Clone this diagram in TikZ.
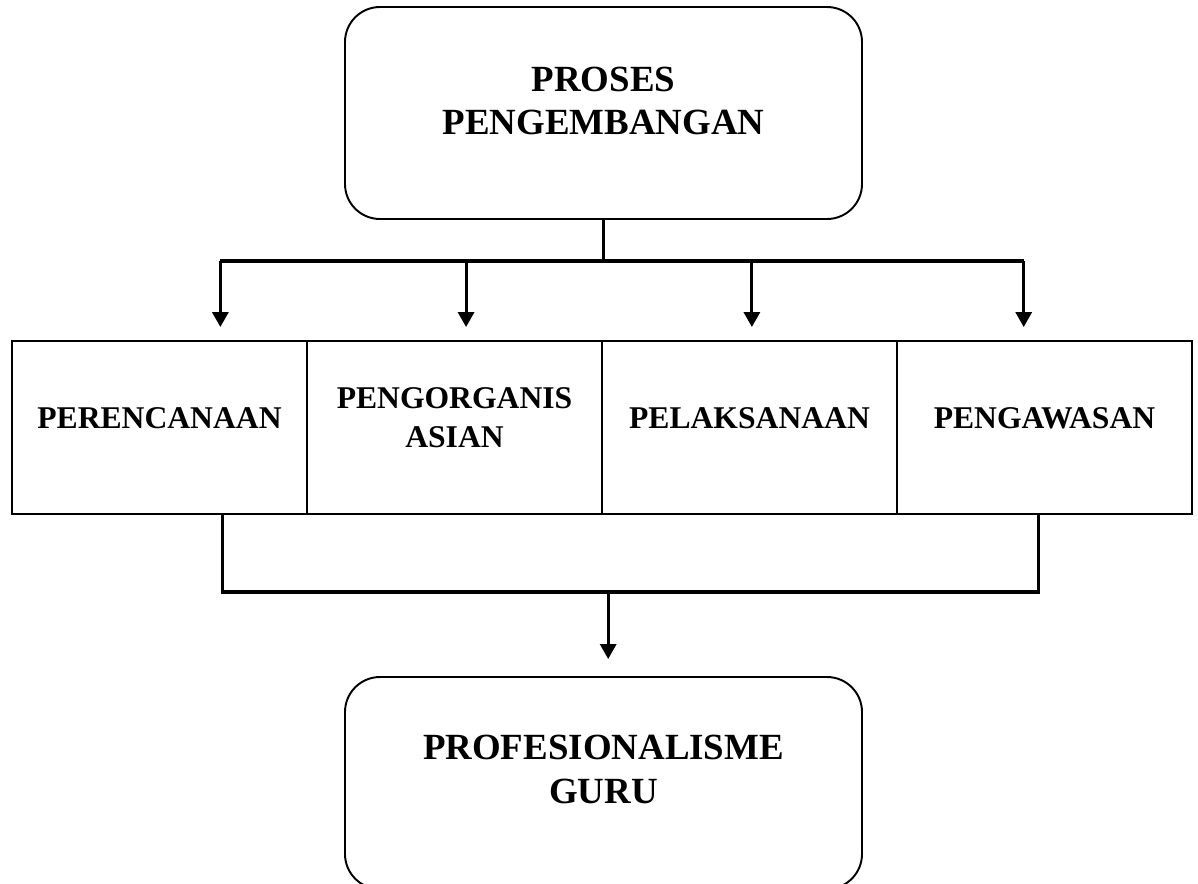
\documentclass[tikz,border=0pt]{standalone}
\usepackage{fontspec}
\setmainfont{Liberation Serif}
\usetikzlibrary{arrows.meta,positioning,calc}
\tikzset{
	roundbox/.style={draw, line width=1.1pt, rounded corners=7mm, minimum width=10.34cm, minimum height=4.24cm, inner sep=0, font=\fontsize{21}{25}\selectfont\bfseries},
	stagebox/.style={draw, line width=1.1pt, minimum width=5.9cm, minimum height=3.46cm, inner sep=0, font=\fontsize{18}{22}\selectfont\bfseries},
	conn/.style={line width=1.8pt},
	arr/.style={conn, -{Triangle[width=0.32cm,length=0.3cm]}}
}
\begin{document}
\begin{tikzpicture}
				\useasboundingbox (0,0) rectangle (23.96,-17.66);
				\clip (0,0) rectangle (23.96,-17.66);
				\node[roundbox] (proses) at (12.07, -2.26) {\begin{tabular}{c}
						PROSES\\ PENGEMBANGAN\\[10pt]
				\end{tabular}};
				\node[stagebox] (rencana) at (3.19, -8.55) {\begin{tabular}{c} PERENCANAAN\\[8pt] \end{tabular}};
				\node[stagebox] (organis) at (9.09, -8.55) {\begin{tabular}{c}
						PENGORGANIS\\ ASIAN\\[8pt]
				\end{tabular}};
				\node[stagebox] (laksana) at (14.99, -8.55) {\begin{tabular}{c} PELAKSANAAN\\[8pt] \end{tabular}};
				\node[stagebox] (awas) at (20.89, -8.55) {\begin{tabular}{c} PENGAWASAN\\[8pt] \end{tabular}};
				\node[roundbox] (guru) at (12.07, -15.66) {\begin{tabular}{c}
						PROFESIONALISME\\ GURU\\[12pt]
				\end{tabular}};
				
				\path (rencana.north west) -- (rencana.north east) coordinate[pos=0.705] (rencanaIn);
				\path (organis.north west) -- (organis.north east) coordinate[pos=0.539] (organisIn);
				\path (laksana.north west) -- (laksana.north east) coordinate[pos=0.508] (laksanaIn);
				\path (awas.north west) -- (awas.north east) coordinate[pos=0.43] (awasIn);
				\path (rencana.south west) -- (rencana.south east) coordinate[pos=0.712] (rencanaOut);
				\path (awas.south west) -- (awas.south east) coordinate[pos=0.481] (awasOut);
				\path (guru.north west) -- (guru.north east) coordinate[pos=0.509] (guruIn);
				
				\draw[conn] (proses.south) -- ++(0,-0.82) coordinate (split);
				\draw[conn] (split -| rencanaIn) -- (split -| awasIn);
				\foreach \t in {rencanaIn, organisIn, laksanaIn, awasIn}
					\draw[arr, shorten >=0.26cm] (split -| \t) -- (\t);
				
				\draw[conn] (rencanaOut) -- ++(0,-1.54) coordinate (join) -- (join -| awasOut) -- (awasOut);
				\draw[arr, shorten >=0.34cm] (join -| guruIn) -- (guruIn);
			\end{tikzpicture}
\end{document}
